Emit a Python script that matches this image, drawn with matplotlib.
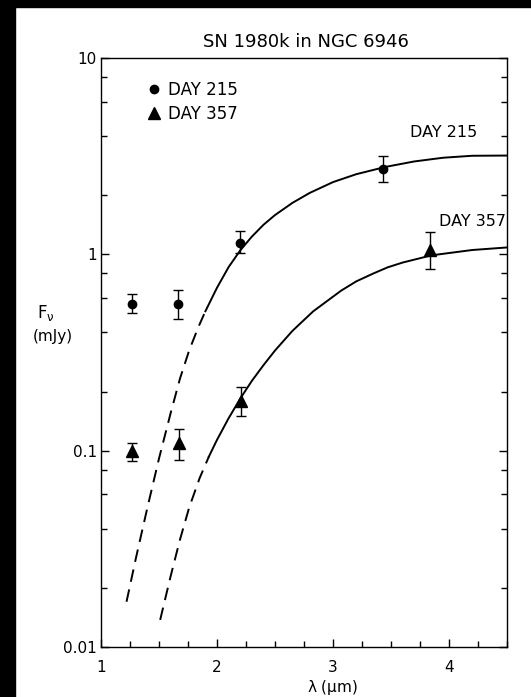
import numpy as np
import matplotlib
matplotlib.use('Agg')
import matplotlib.pyplot as plt
from matplotlib.lines import Line2D
from matplotlib.patches import Rectangle
from matplotlib.ticker import FixedLocator, FixedFormatter, LogLocator, MultipleLocator, NullFormatter

# photometry, flux in mJy with error bar limits
lam_215 = np.array([1.27, 1.66, 2.20, 3.43])
f_215 = np.array([0.556, 0.556, 1.14, 2.71])
lo_215 = np.array([0.50, 0.466, 1.01, 2.33])
hi_215 = np.array([0.625, 0.655, 1.31, 3.16])

lam_357 = np.array([1.27, 1.67, 2.21, 3.84])
f_357 = np.array([0.100, 0.110, 0.180, 1.057])
lo_357 = np.array([0.089, 0.090, 0.151, 0.84])
hi_357 = np.array([0.110, 0.129, 0.212, 1.30])

# model curves: dashed extrapolation + solid fit
c215_dash_x = [1.22, 1.30, 1.40, 1.50, 1.60, 1.68, 1.76, 1.84, 1.90]
c215_dash_y = [0.0170, 0.0282, 0.0513, 0.0912, 0.155, 0.232, 0.324, 0.427, 0.513]
c215_x = [1.90, 2.00, 2.10, 2.20, 2.30, 2.40, 2.50, 2.65, 2.80, 3.00, 3.20,
          3.45, 3.70, 3.95, 4.20, 4.50]
c215_y = [0.513, 0.676, 0.861, 1.047, 1.23, 1.413, 1.585, 1.828, 2.056, 2.333,
          2.559, 2.786, 2.972, 3.105, 3.177, 3.185]

c357_dash_x = [1.51, 1.60, 1.68, 1.76, 1.85, 1.93]
c357_dash_y = [0.01374, 0.0229, 0.0351, 0.0513, 0.0724, 0.0933]
c357_x = [1.93, 2.00, 2.10, 2.20, 2.30, 2.40, 2.50, 2.65, 2.83, 3.07, 3.20, 3.35,
          3.47, 3.60, 3.85, 4.20, 4.50]
c357_y = [0.0933, 0.1135, 0.1462, 0.184, 0.2265, 0.2723, 0.3236, 0.4074, 0.5129,
          0.6531, 0.728, 0.800, 0.858, 0.908, 0.9886, 1.052, 1.084]

yticks = [0.01, 0.1, 1, 10]
ytick_labels = ['0.01', '0.1', '1', '10']
xticks = [1, 2, 3, 4]

plt.rcParams['mathtext.default'] = 'regular'

fig = plt.figure(figsize=(5.31, 6.97), dpi=100)
ax = fig.add_axes([101/531, 50/697, 406/531, 589/697])

dash = (0, (6.5, 4))
ax.plot(c215_dash_x, c215_dash_y, color='k', lw=1.4, ls=dash)
ax.plot(c215_x, c215_y, color='k', lw=1.4)
ax.plot(c357_dash_x, c357_dash_y, color='k', lw=1.4, ls=dash)
ax.plot(c357_x, c357_y, color='k', lw=1.4)

ax.errorbar(lam_215, f_215, yerr=[f_215 - lo_215, hi_215 - f_215], fmt='o', ms=6,
            color='k', elinewidth=1, capsize=3.5, capthick=1)
ax.errorbar(lam_357, f_357, yerr=[f_357 - lo_357, hi_357 - f_357], fmt='^', ms=8,
            color='k', elinewidth=1, capsize=3.5, capthick=1)

ax.set_yscale('log')
ax.set_xlim(1, 4.5)
ax.set_ylim(0.01, 10)

ax.yaxis.set_major_locator(FixedLocator(yticks))
ax.yaxis.set_major_formatter(FixedFormatter(ytick_labels))
ax.yaxis.set_minor_locator(LogLocator(base=10, subs=(2, 4, 6, 8)))
ax.yaxis.set_minor_formatter(NullFormatter())
ax.xaxis.set_major_locator(FixedLocator(xticks))
ax.xaxis.set_minor_locator(MultipleLocator(0.25))

ax.tick_params(axis='both', which='both', direction='in', width=1, labelsize=11)
ax.tick_params(axis='y', which='both', right=True, pad=3)
ax.tick_params(axis='x', which='both', top=False, pad=9)
ax.tick_params(which='major', length=6)
ax.tick_params(which='minor', length=4)
for s in ax.spines.values():
    s.set_linewidth(1)

ax.set_xlabel(r'$\lambda$ ($\mu$m)', fontsize=11)
ax.xaxis.set_label_coords(0.571, -0.053)

ax.text(3.95, 4.19, 'DAY 215', fontsize=11.5, ha='center', va='center')
ax.text(4.20, 1.47, 'DAY 357', fontsize=11.5, ha='center', va='center')

handles = [Line2D([], [], ls='none', marker='o', ms=6, color='k'),
           Line2D([], [], ls='none', marker='^', ms=8, color='k')]
ax.legend(handles, ['DAY 215', 'DAY 357'], loc='upper left', bbox_to_anchor=(0.111, 0.961),
          frameon=False, fontsize=12, handlelength=1.0, handletextpad=0.3,
          labelspacing=0.38, borderpad=0, borderaxespad=0)

fig.text(306/531, 1 - 42/697, 'SN 1980k in NGC 6946', fontsize=13, ha='center', va='center')
fig.text(46/531, 1 - 313/697, r'F$_\nu$', fontsize=12, ha='center', va='center')
fig.text(53/531, 1 - 336/697, '(mJy)', fontsize=11, ha='center', va='center')

# dark scan border along the left and top
fig.patches.append(Rectangle((0, 0), 15/531, 1, transform=fig.transFigure,
                             color='k', zorder=10))
fig.patches.append(Rectangle((0, 1 - 7/697), 1, 7/697, transform=fig.transFigure,
                             color='k', zorder=10))

fig.savefig('out.png', dpi=100)
